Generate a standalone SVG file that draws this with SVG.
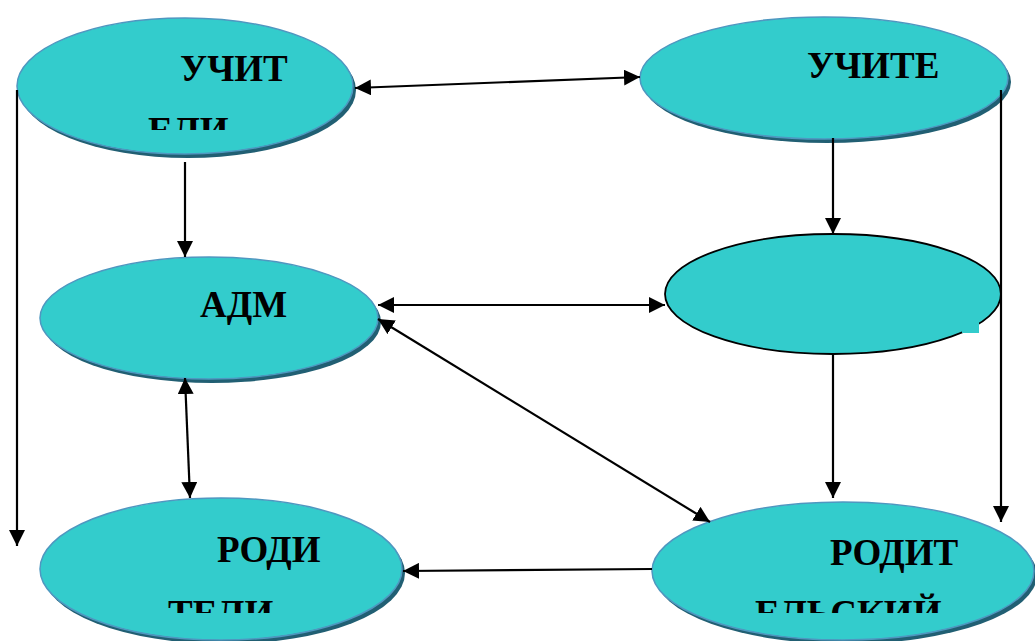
<svg xmlns="http://www.w3.org/2000/svg" width="1035" height="641" viewBox="0 0 1035 641">
<style>
.sh{fill:#215f73}
.nd{fill:#33CCCC;stroke:#4f97c0;stroke-width:1.5}
.nb{fill:#33CCCC;stroke:#000;stroke-width:1.8}
.t{font-family:"Liberation Serif","Times New Roman",serif;font-weight:bold;font-size:37px;fill:#000}
.c{fill:none;stroke:#000;stroke-width:2.2}
</style>
<defs>
<marker id="ah" markerUnits="userSpaceOnUse" markerWidth="16" markerHeight="16" refX="16" refY="8" orient="auto-start-reverse" viewBox="0 0 16 16">
<path d="M0,0 L16,8 L0,16 z" fill="#000"/>
</marker>
<clipPath id="c1"><rect x="0" y="0" width="1035" height="130"/></clipPath>
<clipPath id="c5"><rect x="0" y="0" width="1035" height="613"/></clipPath>
</defs>
<rect width="1035" height="641" fill="#fff"/>
<g id="n1">
<ellipse class="sh" cx="188" cy="90" rx="168" ry="68"/>
<ellipse class="nd" cx="185" cy="86" rx="168" ry="68"/>
<text class="t" x="180" y="81">УЧИТ</text>
<text class="t" x="148" y="143" clip-path="url(#c1)">ЕЛИ</text>
</g>
<g id="n2">
<ellipse class="sh" cx="827" cy="82" rx="184" ry="61"/>
<ellipse class="nd" cx="824" cy="78" rx="184" ry="61"/>
<text class="t" x="807" y="78">УЧИТЕ</text>
</g>
<g id="n3">
<ellipse class="nb" cx="833" cy="294" rx="168" ry="60"/>
<rect x="962" y="322" width="17" height="11" fill="#33CCCC"/>
</g>
<g id="n4">
<ellipse class="sh" cx="212" cy="322" rx="169" ry="61"/>
<ellipse class="nd" cx="209" cy="318" rx="169" ry="61"/>
<text class="t" x="200" y="317">АДМ</text>
</g>
<g id="n5">
<ellipse class="sh" cx="224" cy="573" rx="181" ry="71"/>
<ellipse class="nd" cx="221" cy="569" rx="181" ry="71"/>
<text class="t" x="217" y="562">РОДИ</text>
<text class="t" x="168" y="626" clip-path="url(#c5)">ТЕЛИ</text>
</g>
<g id="n6">
<ellipse class="sh" cx="846" cy="575" rx="191" ry="69"/>
<ellipse class="nd" cx="843" cy="571" rx="191" ry="69"/>
<text class="t" x="830" y="565">РОДИТ</text>
<text class="t" x="755" y="626" clip-path="url(#c5)">ЕЛЬСКИЙ</text>
</g>
<g id="connectors">
<line class="c" x1="355" y1="88" x2="640" y2="77" marker-start="url(#ah)" marker-end="url(#ah)"/>
<line class="c" x1="17" y1="90" x2="17" y2="546" marker-end="url(#ah)"/>
<line class="c" x1="185" y1="162" x2="185" y2="257" marker-end="url(#ah)"/>
<line class="c" x1="833" y1="138" x2="833" y2="234" marker-end="url(#ah)"/>
<line class="c" x1="1001" y1="90" x2="1001" y2="522" marker-end="url(#ah)"/>
<line class="c" x1="378" y1="305" x2="665" y2="305" marker-start="url(#ah)" marker-end="url(#ah)"/>
<line class="c" x1="378" y1="319" x2="710" y2="522" marker-start="url(#ah)" marker-end="url(#ah)"/>
<line class="c" x1="185" y1="378" x2="190" y2="498" marker-start="url(#ah)" marker-end="url(#ah)"/>
<line class="c" x1="833" y1="354" x2="833" y2="498" marker-end="url(#ah)"/>
<line class="c" x1="652" y1="569" x2="403" y2="571" marker-end="url(#ah)"/>
</g>
</svg>
